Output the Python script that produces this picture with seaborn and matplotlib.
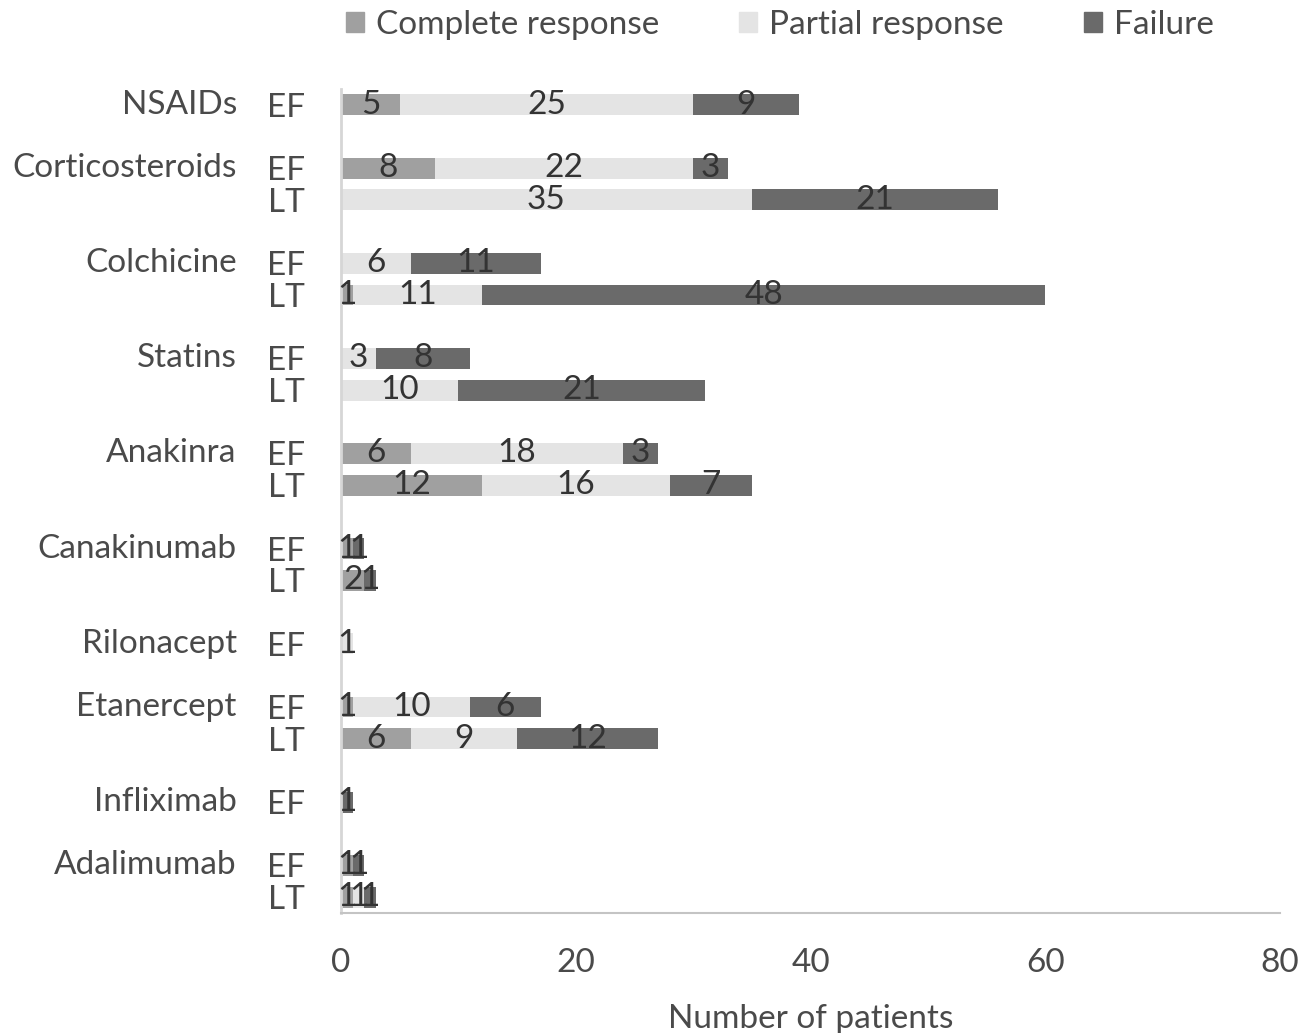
import matplotlib
matplotlib.use("Agg")
import matplotlib.pyplot as plt
import matplotlib.transforms as mtransforms
from matplotlib.patches import Patch
import seaborn as sns
import pandas as pd

# ---- data ----
drugs = ["NSAIDs", "Corticosteroids", "Colchicine", "Statins", "Anakinra",
         "Canakinumab", "Rilonacept", "Etanercept", "Infliximab", "Adalimumab"]
row_drug = ["NSAIDs", "Corticosteroids", "Corticosteroids", "Colchicine", "Colchicine",
            "Statins", "Statins", "Anakinra", "Anakinra", "Canakinumab", "Canakinumab",
            "Rilonacept", "Etanercept", "Etanercept", "Infliximab", "Adalimumab", "Adalimumab"]
row_phase = ["EF", "EF", "LT", "EF", "LT", "EF", "LT", "EF", "LT", "EF", "LT",
             "EF", "EF", "LT", "EF", "EF", "LT"]
complete = [5, 8, 0, 0, 1, 0, 0, 6, 12, 1, 2, 0, 1, 6, 0, 1, 1]
partial = [25, 22, 35, 6, 11, 3, 10, 18, 16, 0, 0, 1, 10, 9, 0, 0, 1]
failure = [9, 3, 21, 11, 48, 8, 21, 3, 7, 1, 1, 0, 6, 12, 1, 1, 1]
series_names = ["Complete response", "Partial response", "Failure"]
x_ticks = [0, 20, 40, 60, 80]

col_complete = "#a0a0a0"
col_partial = "#e4e4e4"
col_failure = "#6a6a6a"
text_col = "#333333"
axis_text = "#4a4a4a"
FS = 24

sns.set_theme(style="white")
plt.rcParams["font.family"] = ["Lato", "DejaVu Sans"]

df = pd.DataFrame({"drug": row_drug, "phase": row_phase,
                   "complete": complete, "partial": partial, "failure": failure})
df["key"] = df["drug"] + "|" + df["phase"]
df["cp"] = df["complete"] + df["partial"]
df["total"] = df["cp"] + df["failure"]

# category order, with a blank slot after each drug
order = []
gap_i = 0
keys = set(df["key"])
for d in drugs:
    for p in ["EF", "LT"]:
        k = d + "|" + p
        if k in keys:
            order.append(k)
    if d != drugs[-1]:
        order.append("gap%d" % gap_i)
        gap_i += 1

fig = plt.figure(figsize=(13.08, 10.33), dpi=100)
ax = fig.add_axes([0.2607, 0.1162, 0.7179, 0.7976])

common = dict(y="key", order=order, orient="h", width=0.66, errorbar=None,
              linewidth=0, ax=ax)
sns.barplot(data=df, x="total", color=col_failure, **common)
sns.barplot(data=df, x="cp", color=col_partial, **common)
sns.barplot(data=df, x="complete", color=col_complete, **common)

# value labels
pos = {k: i for i, k in enumerate(order)}
for _, r in df.iterrows():
    y = pos[r["key"]]
    left = 0
    for v in (r["complete"], r["partial"], r["failure"]):
        if v > 0:
            ax.text(left + v / 2, y, str(v), ha="center", va="center",
                    fontsize=FS, color=text_col)
        left += v

ax.set_xlim(0, 80)
ax.set_ylim(len(order) - 0.5, -0.5)
ax.set_xticks(x_ticks)
ax.set_xticklabels([str(t) for t in x_ticks], fontsize=FS, color=axis_text)
ax.set_yticks(range(len(order)))
ax.set_yticklabels([k.split("|")[1] if "|" in k else "" for k in order],
                   fontsize=FS, color=axis_text)
ax.tick_params(axis="y", length=0, pad=26)
ax.tick_params(axis="x", length=0, pad=25)
ax.set_ylabel("")
ax.set_xlabel("Number of patients", fontsize=FS, color=axis_text, labelpad=19)

trans = mtransforms.blended_transform_factory(ax.transAxes, ax.transData)
for d in drugs:
    k = d + "|EF"
    ax.text(-0.111, pos[k], d, transform=trans, ha="right", va="center",
            fontsize=FS, color=axis_text)

for s in ["top", "right"]:
    ax.spines[s].set_visible(False)
ax.spines["left"].set_color("#d6d6d6")
ax.spines["left"].set_linewidth(2)
ax.spines["bottom"].set_color("#c4c4c4")
ax.spines["bottom"].set_linewidth(1.5)

handles = [Patch(color=c, label=n) for c, n in
           zip([col_complete, col_partial, col_failure], series_names)]
leg = fig.legend(handles=handles, loc="center", bbox_to_anchor=(0.596, 0.976),
                 ncol=3, frameon=False, fontsize=FS, handlelength=0.55,
                 handleheight=0.55, handletextpad=0.35, columnspacing=2.4)
for t in leg.get_texts():
    t.set_color(axis_text)

fig.savefig("out.png", dpi=100)
